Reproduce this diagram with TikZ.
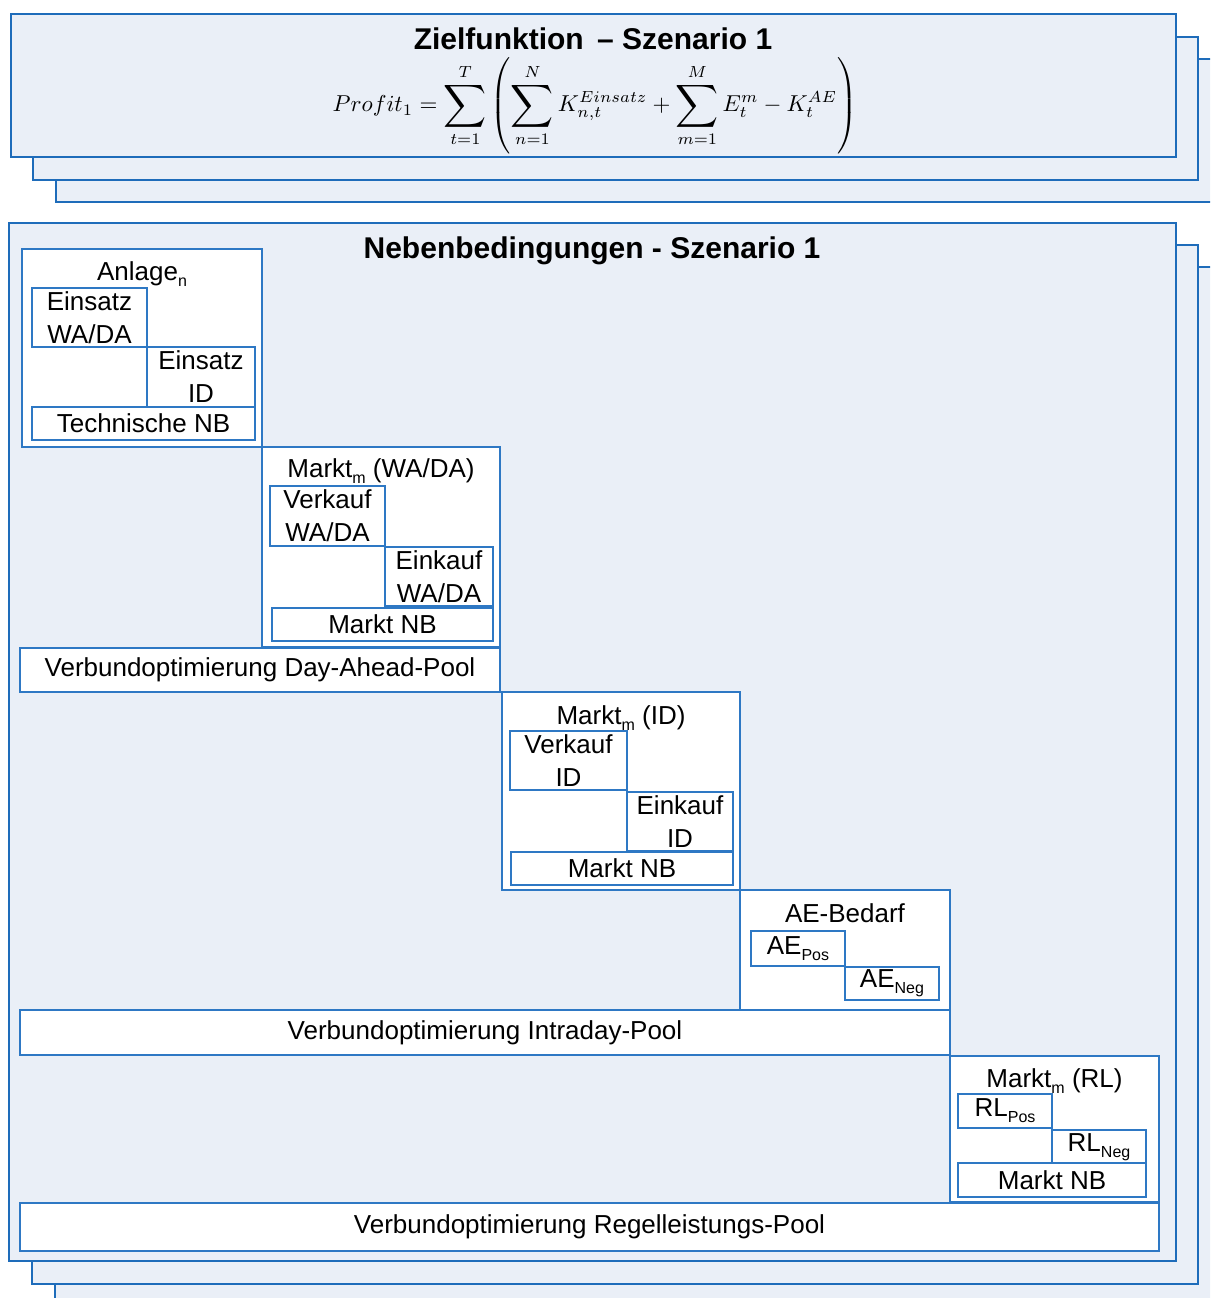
\documentclass[tikz,border=0pt]{standalone}
\usepackage{graphicx}
\usepackage[no-math]{fontspec}
\setmainfont{Liberation Sans}
\definecolor{panelfill}{RGB}{234,239,247}
\definecolor{panelline}{RGB}{30,108,186}
\definecolor{boxline}{RGB}{46,120,196}
\newcommand{\fsnorm}{\fontsize{26}{33}\selectfont}
\newcommand{\fstitle}{\fontsize{30}{34}\selectfont\bfseries}
\newcommand{\sbs}[1]{\raisebox{-6pt}{\fontsize{16}{16}\selectfont #1}}
\newcommand{\bigsum}{\mathop{\vcenter{\hbox{\scalebox{1.3}{$\displaystyle\sum$}}}}\limits}
\tikzset{
  panel/.style={draw=panelline, fill=panelfill, line width=2.8pt},
  bx/.style={draw=boxline, fill=white, line width=1.6pt, inner sep=0pt, align=center, font=\fsnorm},
  lbl/.style={inner sep=0pt, anchor=base, font=\fsnorm},
  ttl/.style={inner sep=0pt, anchor=base, font=\fstitle}
}
\begin{document}
\begin{tikzpicture}[x=1pt,y=-1pt]
\clip (0,0) rectangle (1210,1298);
\fill[white] (0,0) rectangle (1210,1298);
% top stack
\draw[panel] (56,59) rectangle (1240,202);
\draw[panel] (33,37) rectangle (1198,180);
\draw[panel] (11,14) rectangle (1176,157);
\node[ttl] (ziel) at (593,50) {Zielfunktion \,– Szenario 1};
\node[inner sep=0pt, scale=2.3] (formel) at (595,106) {$\displaystyle Profit_1=\bigsum_{t=1}^{T}\left(\vrule height 25pt depth 20pt width 0pt\bigsum_{n=1}^{N}K_{n,t}^{Einsatz}+\bigsum_{m=1}^{M}E_t^m-K_t^{AE}\right)$};
% bottom stack
\draw[panel] (55,267) rectangle (1240,1306);
\draw[panel] (32,245) rectangle (1198,1284);
\draw[panel] (9,223) rectangle (1176,1261);
\node[ttl] (neben) at (592,258) {Nebenbedingungen - Szenario 1};
% Anlage
\node[bx, minimum width=240pt, minimum height=198pt] (anlage) at (142,348) {};
\node[lbl] (anlageT) at (142,280) {Anlage\sbs{n}};
\node[bx, minimum width=115pt, minimum height=59pt] (einsDA) at (89.5,317.5) {Einsatz\\WA/DA};
\node[bx, minimum width=108pt, minimum height=60pt] (einsID) at (201,377) {Einsatz\\ID};
\node[bx, minimum width=223pt, minimum height=33pt] (techNB) at (143.5,423.5) {Technische NB};
% Markt WA/DA
\node[bx, minimum width=238pt, minimum height=200pt] (marktDA) at (381,547) {};
\node[lbl] (marktDAT) at (381,477) {Markt\sbs{m} (WA/DA)};
\node[bx, minimum width=115pt, minimum height=60pt] (verkDA) at (327.5,516) {Verkauf\\WA/DA};
\node[bx, minimum width=108pt, minimum height=59pt] (einkDA) at (439,576.5) {Einkauf\\WA/DA};
\node[bx, minimum width=221pt, minimum height=33pt] (marktNBa) at (382.5,624.5) {Markt NB};
\node[bx, minimum width=480pt, minimum height=44pt] (voDA) at (260,670) {Verbundoptimierung Day-Ahead-Pool};
% Markt ID
\node[bx, minimum width=238pt, minimum height=198pt] (marktID) at (621,791) {};
\node[lbl] (marktIDT) at (621,724) {Markt\sbs{m} (ID)};
\node[bx, minimum width=117pt, minimum height=59pt] (verkID) at (568.5,760.5) {Verkauf\\ID};
\node[bx, minimum width=106pt, minimum height=59pt] (einkID) at (680,821.5) {Einkauf\\ID};
\node[bx, minimum width=222pt, minimum height=33pt] (marktNBb) at (622,868.5) {Markt NB};
% AE-Bedarf
\node[bx, minimum width=210pt, minimum height=120pt] (ae) at (845,950) {};
\node[lbl] (aeT) at (845,922) {AE-Bedarf};
\node[bx, minimum width=94pt, minimum height=35pt] (aePos) at (798,948.5) {AE\sbs{Pos}};
\node[bx, minimum width=94pt, minimum height=33pt] (aeNeg) at (892,983.5) {AE\sbs{Neg}};
\node[bx, minimum width=930pt, minimum height=45pt] (voID) at (485,1032.5) {Verbundoptimierung Intraday-Pool};
% Markt RL
\node[bx, minimum width=209pt, minimum height=146pt] (marktRL) at (1054.5,1129) {};
\node[lbl] (marktRLT) at (1054.5,1087) {Markt\sbs{m} (RL)};
\node[bx, minimum width=94pt, minimum height=34pt] (rlPos) at (1005,1111) {RL\sbs{Pos}};
\node[bx, minimum width=94pt, minimum height=34pt] (rlNeg) at (1099,1147) {RL\sbs{Neg}};
\node[bx, minimum width=188pt, minimum height=34pt] (marktNBc) at (1052,1180) {Markt NB};
\node[bx, minimum width=1139pt, minimum height=48pt] (voRL) at (589.5,1227) {Verbundoptimierung Regelleistungs-Pool};
\end{tikzpicture}
\end{document}
